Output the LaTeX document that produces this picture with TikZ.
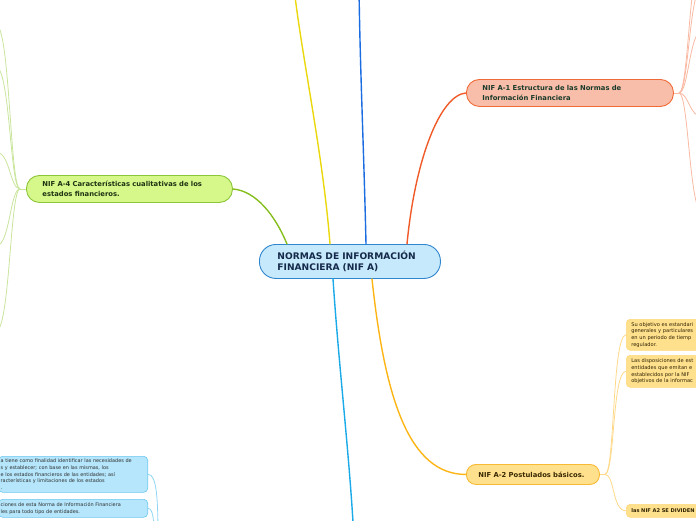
\documentclass[tikz,border=0pt]{standalone}
\usepackage{fontspec}
\setmainfont{DejaVu Sans}
\usetikzlibrary{calc}
\definecolor{cfill}{HTML}{C6E9FB}
\definecolor{cdraw}{HTML}{2F86CF}
\definecolor{ctext}{HTML}{15294A}
\definecolor{afill}{HTML}{F9BEA9}
\definecolor{adraw}{HTML}{F06A38}
\definecolor{atext}{HTML}{1B3A2A}
\definecolor{gfill}{HTML}{D6F78A}
\definecolor{gdraw}{HTML}{8CC43A}
\definecolor{gtext}{HTML}{1E3312}
\definecolor{yfill}{HTML}{FFE08C}
\definecolor{ydraw}{HTML}{F8B935}
\definecolor{ytext}{HTML}{3A2A05}
\definecolor{bfill}{HTML}{B5E6FB}
\definecolor{bdraw}{HTML}{6CC6F0}
\definecolor{lyellow}{HTML}{EAD80C}
\definecolor{lblue}{HTML}{1A6CE0}
\definecolor{lcyan}{HTML}{1AAAE8}
\definecolor{lred}{HTML}{F05A28}
\definecolor{lgreen}{HTML}{86BE1E}
\definecolor{lorange}{HTML}{FDB515}
\definecolor{sgreen}{HTML}{C9E59C}
\definecolor{sred}{HTML}{F9B9A2}
\definecolor{sorange}{HTML}{FFD98A}
\definecolor{scyan}{HTML}{8FD6F5}
\definecolor{stext}{HTML}{2E2E2E}
\begin{document}
\begin{tikzpicture}[x=1pt,y=-1pt,
  mainline/.style={line width=1.4pt, line cap=round},
  subline/.style={line width=0.8pt},
  topic/.style={draw, line width=0.9pt, anchor=north west, align=left, inner ysep=0pt,
    font=\bfseries\fontsize{6.8}{10}\selectfont},
  leaf/.style={draw, line width=0.6pt, rounded corners=4pt, align=left, inner ysep=0pt,
    font=\fontsize{5.1}{6.6}\selectfont, text=stext}]
\useasboundingbox (0,0) rectangle (696,520);
\clip (0,0) rectangle (696,520);

% central node
\node[topic, fill=cfill, draw=cdraw, text=ctext, rounded corners=16.5pt,
  minimum width=181pt, minimum height=34pt, inner xsep=18pt, text width=145pt,
  font=\bfseries\fontsize{9.1}{11}\selectfont] (c) at (259,244)
  {NORMAS DE INFORMACIÓN\\FINANCIERA (NIF A)};

% topics
\node[topic, fill=afill, draw=adraw, text=atext, rounded corners=13pt,
  minimum width=207pt, minimum height=27pt, inner xsep=16pt, text width=175pt] (a1) at (466,79)
  {NIF A-1 Estructura de las Normas de\\Información Financiera};
\node[topic, fill=gfill, draw=gdraw, text=gtext, rounded corners=13pt,
  minimum width=206pt, minimum height=27pt, inner xsep=16pt, text width=174pt] (a4) at (26,175)
  {NIF A-4 Características cualitativas de los\\estados financieros.};
\node[topic, fill=yfill, draw=ydraw, text=ytext, rounded corners=9.5pt,
  minimum width=133pt, minimum height=20pt, inner xsep=12pt, text width=109pt] (a2) at (466,464)
  {NIF A-2 Postulados básicos.};

% leaves right (A-2)
\node[leaf, anchor=north west, fill=yfill, draw=yfill!80!ydraw, text=ytext!80!black,
  minimum width=100pt, minimum height=31pt, inner xsep=5pt, text width=90pt] (b1) at (626,319)
  {Su objetivo es estandari\\generales y particulares\\en un periodo de tiemp\\regulador.};
\node[leaf, anchor=north west, fill=yfill, draw=yfill!80!ydraw, text=ytext!80!black,
  minimum width=100pt, minimum height=32pt, inner xsep=5pt, text width=90pt] (b2) at (626,355)
  {Las disposiciones de est\\entidades que emitan e\\establecidos por la NIF\\objetivos de la informac};
\node[leaf, anchor=north west, fill=yfill, draw=yfill!80!ydraw, text=ytext!80!black,
  minimum width=100pt, minimum height=13pt, inner xsep=5pt, text width=90pt,
  font=\bfseries\fontsize{5.1}{6.5}\selectfont] (b3) at (626,504)
  {las NIF A2 SE DIVIDEN};

% leaves bottom left
\node[leaf, anchor=north east, fill=bfill, draw=bdraw,
  minimum width=149pt, minimum height=36pt, inner xsep=2pt, text width=145pt,
  font=\fontsize{4.95}{6.7}\selectfont] (l1) at (148,456)
  {a tiene como finalidad identificar las necesidades de\\s y establecer; con base en las mismas, los\\e los estados financieros de las entidades; así\\racterísticas y limitaciones de los estados\\.};
\node[leaf, anchor=north east, fill=bfill, draw=bdraw,
  minimum width=149pt, minimum height=18pt, inner xsep=2pt, text width=145pt,
  font=\fontsize{4.95}{6.7}\selectfont] (l2) at (148,499)
  {ciones de esta Norma de Información Financiera\\les para todo tipo de entidades.};

% free ends
\coordinate (ytop) at (294,-12);
\coordinate (btop) at (359,-12);
\coordinate (cbot) at (354,540);
\coordinate (j4) at ($(a4.west)+(-6,0)$);
\coordinate (e41) at (-4,25);
\coordinate (e42) at (-4,67);
\coordinate (e43) at (-4,152);
\coordinate (e44) at (-4,246);
\coordinate (e45) at (-4,331);
\coordinate (j1) at ($(a1.east)+(5,0)$);
\coordinate (e11) at (703,-45);
\coordinate (e12) at (703,-15);
\coordinate (e13) at (703,30);
\coordinate (e14) at (703,117);
\coordinate (e15) at (703,214);
\coordinate (j2) at ($(a2.east)+(5,0)$);
\coordinate (lb1) at (158,540);
\coordinate (lb2) at (154,540);

% main connectors
\draw[mainline, lyellow] ($(c.north west)+(71,0)$) .. controls +(-7,-90) and +(8,70) .. (ytop);
\draw[mainline, lblue] ($(c.north west)+(107,0)$) .. controls +(-2,-90) and +(1,80) .. (btop);
\draw[mainline, lcyan] ($(c.south west)+(74,0)$) .. controls +(6,90) and +(-4,-80) .. (cbot);
\draw[mainline, lred] ($(c.north west)+(148,0)$) .. controls +(8,-84) and +(-26,2) .. (a1.west);
\draw[mainline, lgreen] ($(c.north west)+(28,0)$) .. controls +(-12,-29) and +(23,2) .. (a4.east);
\draw[mainline, lorange] ($(c.south west)+(113,0)$) .. controls +(13,122) and +(-56,0) .. (a2.west);

% A-4 branches
\draw[subline, sgreen] (a4.west) -- (j4);
\foreach \e in {e41,e42,e43,e44,e45}
  \draw[subline, sgreen] (j4) .. controls +(-10,0) and +(14,0) .. (\e);
% A-1 branches
\draw[subline, sred] (a1.east) -- (j1);
\foreach \e in {e11,e12,e13,e14,e15}
  \draw[subline, sred] (j1) .. controls +(10,0) and +(-14,0) .. (\e);
% A-2 branches
\draw[subline, sorange] (a2.east) -- (j2);
\foreach \e in {b1,b2,b3}
  \draw[subline, sorange] (j2) .. controls +(10,0) and +(-14,0) .. (\e.west);
% bottom-left branches
\draw[subline, scyan] (l1.east) .. controls +(9,0) and +(0,-40) .. (lb1);
\draw[subline, scyan] (l2.east) .. controls +(6,0) and +(0,-15) .. (lb2);
\end{tikzpicture}
\end{document}
